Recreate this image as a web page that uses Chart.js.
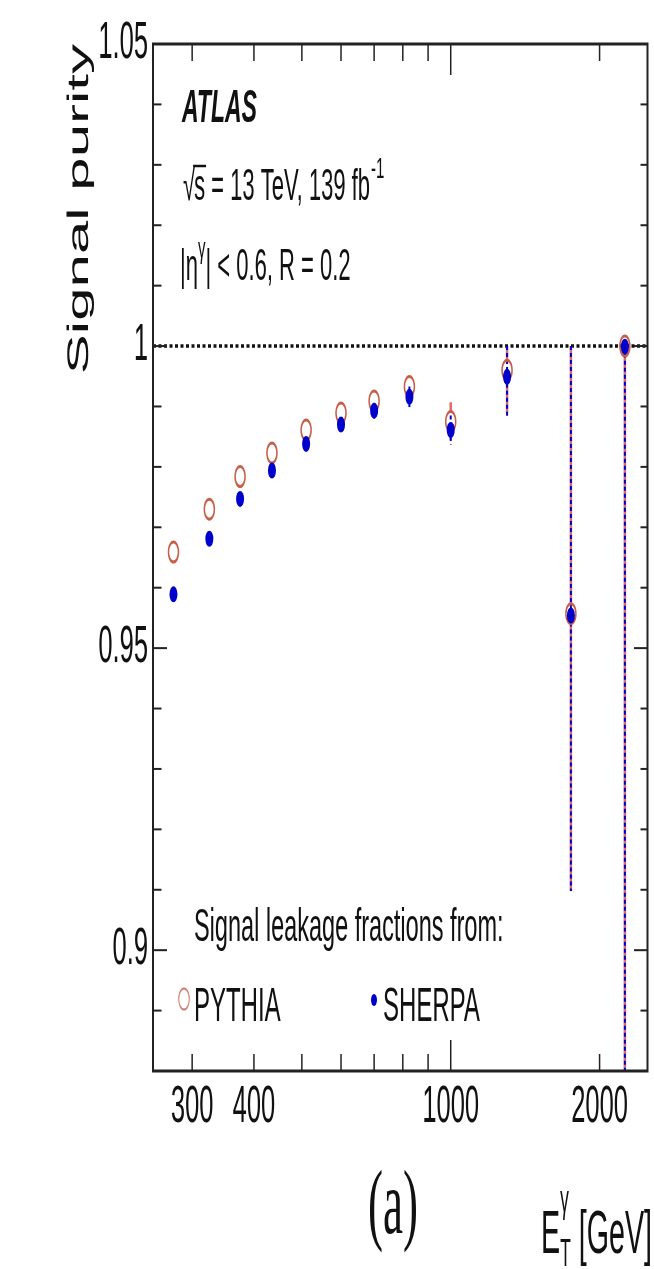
<!DOCTYPE html>
<html><head><meta charset="utf-8">
<script src="https://cdn.jsdelivr.net/npm/chart.js@4.4.1/dist/chart.umd.min.js"></script>
<style>html,body{margin:0;padding:0;background:#fff;overflow:hidden}
#c{display:block;width:654px !important;height:1269px !important}</style>
</head><body>
<canvas id="c" width="1308" height="1269" style="width:654px;height:1269px"></canvas>
<script>
// ---- data ----
const binCenters   = [275, 325, 375, 435, 510, 600, 700, 825, 1000, 1300, 1750, 2250];
const pythiaPurity = [0.9659, 0.9730, 0.9784, 0.9823, 0.9861, 0.9889, 0.9909, 0.9933, 0.9875, 0.9960, 0.9557, 1.0000];
const pythiaErrLow = [0.0005, 0.0005, 0.0006, 0.0007, 0.0008, 0.0010, 0.0012, 0.0015, 0.0030, 0.0070, 0.0459, 0.1500];
const pythiaErrHigh= [0.0005, 0.0005, 0.0006, 0.0007, 0.0008, 0.0010, 0.0012, 0.0015, 0.0032, 0.0040, 0.0443, 0.0000];
const sherpaPurity = [0.9589, 0.9681, 0.9747, 0.9794, 0.9838, 0.9870, 0.9893, 0.9916, 0.9861, 0.9949, 0.9554, 0.9999];
const sherpaErrLow = [0.0005, 0.0006, 0.0007, 0.0008, 0.0009, 0.0011, 0.0013, 0.0017, 0.0024, 0.0068, 0.0456, 0.1500];
const sherpaErrHigh= [0.0005, 0.0006, 0.0007, 0.0008, 0.0009, 0.0011, 0.0013, 0.0017, 0.0024, 0.0051, 0.0446, 0.0001];
const xTickLabels  = [300, 400, 1000, 2000];
const xMinorTicks  = [300, 400, 500, 600, 700, 800, 900, 2000];
const xMajorTicks  = [1000];
const yTickLabels  = [0.9, 0.95, 1, 1.05];
const yMajorTicks  = [0.9, 0.95, 1.0];
const yMinorTicks  = [0.89, 0.91, 0.92, 0.93, 0.94, 0.96, 0.97, 0.98, 0.99, 1.01, 1.02, 1.03, 1.04];
const referenceLevel = 1.0;

const SANS = '"Liberation Sans", Arial, Helvetica, sans-serif';
const SERIF = '"Liberation Serif", "Times New Roman", serif';
const PY_COLOR = '#c65e48';
const SH_COLOR = '#0000cc';
const PY_R = 10, SH_R = 8;

// ROOT-style error bars: the part hidden by the marker is not drawn
function errorBars(ctx, xs, ys, vals, lo, hi, color, width, dash, gap) {
  ctx.save();
  ctx.strokeStyle = color; ctx.lineWidth = width; ctx.setLineDash(dash);
  vals.forEach((v, i) => {
    const px = xs.getPixelForValue(binCenters[i]);
    const pc = ys.getPixelForValue(v);
    const pTop = ys.getPixelForValue(v + hi[i]);
    const pBot = ys.getPixelForValue(v - lo[i]);
    if (pTop < pc - gap) { ctx.beginPath(); ctx.moveTo(px, pTop); ctx.lineTo(px, pc - gap); ctx.stroke(); }
    if (pBot > pc + gap) { ctx.beginPath(); ctx.moveTo(px, pc + gap); ctx.lineTo(px, pBot); ctx.stroke(); }
  });
  ctx.restore();
}

const decor = {
  id: 'decor',
  beforeDatasetsDraw(chart) {
    const {ctx, chartArea: a, scales: {x, y}} = chart;
    ctx.save();
    ctx.beginPath(); ctx.rect(a.left, a.top, a.right - a.left, a.bottom - a.top); ctx.clip();
    ctx.strokeStyle = '#111'; ctx.lineWidth = 3.5; ctx.setLineDash([6, 5]);
    const py = y.getPixelForValue(referenceLevel);
    ctx.beginPath(); ctx.moveTo(a.left, py); ctx.lineTo(a.right, py); ctx.stroke();
    errorBars(ctx, x, y, pythiaPurity, pythiaErrLow, pythiaErrHigh, '#e06a6a', 5, [], PY_R);
    errorBars(ctx, x, y, sherpaPurity, sherpaErrLow, sherpaErrHigh, SH_COLOR, 4, [4, 3], SH_R - 1);
    ctx.restore();
  },
  afterDraw(chart) {
    const {ctx, chartArea: a, scales: {x, y}} = chart;
    ctx.save();
    ctx.strokeStyle = '#222';
    ctx.lineWidth = 3;
    ctx.beginPath(); ctx.moveTo(a.left - 2, a.top); ctx.lineTo(a.right + 2, a.top); ctx.stroke();
    ctx.beginPath(); ctx.moveTo(a.left - 2, a.bottom); ctx.lineTo(a.right + 2, a.bottom); ctx.stroke();
    ctx.lineWidth = 4;
    ctx.beginPath(); ctx.moveTo(a.left, a.top); ctx.lineTo(a.left, a.bottom); ctx.stroke();
    ctx.beginPath(); ctx.moveTo(a.right, a.top); ctx.lineTo(a.right, a.bottom); ctx.stroke();
    ctx.lineWidth = 3;
    const xt = (v, len) => {
      const px = x.getPixelForValue(v);
      ctx.beginPath(); ctx.moveTo(px, a.bottom); ctx.lineTo(px, a.bottom - len); ctx.stroke();
      ctx.beginPath(); ctx.moveTo(px, a.top); ctx.lineTo(px, a.top + len); ctx.stroke();
    };
    xMinorTicks.forEach(v => xt(v, 17));
    xMajorTicks.forEach(v => xt(v, 31));
    ctx.lineWidth = 2;
    const yt = (v, lenL, lenR) => {
      const py = y.getPixelForValue(v);
      ctx.beginPath(); ctx.moveTo(a.left, py); ctx.lineTo(a.left + lenL, py); ctx.stroke();
      ctx.beginPath(); ctx.moveTo(a.right, py); ctx.lineTo(a.right - lenR, py); ctx.stroke();
    };
    yMinorTicks.forEach(v => yt(v, 17, 14));
    yMajorTicks.forEach(v => yt(v, 28, 27));

    ctx.fillStyle = '#111';
    ctx.textBaseline = 'alphabetic';
    ctx.textAlign = 'left';
    ctx.font = 'italic bold 46px ' + SANS;
    ctx.fillText('ATLAS', 364, 122);

    ctx.font = '44px ' + SANS;
    let cx = 366;
    ctx.fillText('\u221A', cx, 200);
    const wr = ctx.measureText('\u221A').width;
    const sx0 = cx + wr - 2;
    ctx.fillText('s', sx0, 200);
    const ws = ctx.measureText('s').width;
    ctx.lineWidth = 2.5; ctx.strokeStyle = '#111';
    ctx.beginPath(); ctx.moveTo(sx0 - 2, 166); ctx.lineTo(sx0 + ws + 2, 166); ctx.stroke();
    cx = sx0 + ws;
    const rest = ' = 13 TeV, 139 fb';
    ctx.fillText(rest, cx, 200);
    cx += ctx.measureText(rest).width + 2;
    ctx.font = '30px ' + SANS;
    ctx.fillText('-1', cx, 178);

    ctx.font = '44px ' + SANS;
    cx = 360;
    ctx.fillText('|\u03B7', cx, 280);
    cx += ctx.measureText('|\u03B7').width;
    ctx.font = '30px ' + SANS;
    ctx.fillText('\u03B3', cx, 258);
    cx += ctx.measureText('\u03B3').width;
    ctx.font = '44px ' + SANS;
    ctx.fillText('| < 0.6, R = 0.2', cx, 280);

    ctx.font = '47px ' + SANS;
    ctx.fillText('Signal leakage fractions from:', 388, 941);
    ctx.font = '48px ' + SANS;
    ctx.fillText('PYTHIA', 388, 1021);
    ctx.fillText('SHERPA', 766, 1021);
    ctx.strokeStyle = '#d07a70'; ctx.lineWidth = 2;
    ctx.beginPath(); ctx.arc(368, 999, 10.5, 0, Math.PI * 2); ctx.stroke();
    ctx.fillStyle = SH_COLOR;
    ctx.beginPath(); ctx.arc(748, 1000, 6, 0, Math.PI * 2); ctx.fill();

    ctx.fillStyle = '#111';
    ctx.font = '90px ' + SERIF;
    ctx.textAlign = 'center';
    ctx.fillText('(a)', 786, 1233);

    ctx.textAlign = 'left';
    ctx.font = '62px ' + SANS;
    const wE = ctx.measureText('E').width;
    ctx.font = '38px ' + SANS;
    const wSub = Math.max(ctx.measureText('T').width, ctx.measureText('\u03B3').width);
    ctx.font = '62px ' + SANS;
    const wG = ctx.measureText(' [GeV]').width;
    const natural = wE + wSub + wG;
    const target = 222;
    ctx.save();
    ctx.translate(1304 - target, 0);
    ctx.scale(target / natural, 1);
    ctx.font = '62px ' + SANS;
    ctx.fillText('E', 0, 1253);
    ctx.font = '38px ' + SANS;
    ctx.fillText('T', wE, 1266);
    ctx.fillText('\u03B3', wE, 1212);
    ctx.font = '62px ' + SANS;
    ctx.fillText(' [GeV]', wE + wSub, 1253);
    ctx.restore();
    ctx.restore();
  }
};

new Chart(document.getElementById('c').getContext('2d'), {
  type: 'scatter',
  data: {
    datasets: [
      {
        label: 'SHERPA',
        data: binCenters.map((v, i) => ({x: v, y: sherpaPurity[i]})),
        pointStyle: 'circle', pointRadius: SH_R, pointHoverRadius: SH_R,
        backgroundColor: SH_COLOR, borderColor: SH_COLOR, borderWidth: 0,
        order: 0
      },
      {
        label: 'PYTHIA',
        data: binCenters.map((v, i) => ({x: v, y: pythiaPurity[i]})),
        pointStyle: 'circle', pointRadius: PY_R, pointHoverRadius: PY_R,
        backgroundColor: 'rgba(255,255,255,0)', borderColor: PY_COLOR, borderWidth: 3,
        order: 1
      }
    ]
  },
  options: {
    responsive: false, animation: false, devicePixelRatio: 1,
    events: [],
    layout: {padding: {left: 0, right: 8, top: 44, bottom: 118}},
    plugins: {legend: {display: false}, tooltip: {enabled: false}},
    scales: {
      x: {
        type: 'logarithmic', position: 'bottom', min: 250, max: 2500,
        grid: {display: false, drawTicks: false}, border: {display: false},
        afterBuildTicks: s => { s.ticks = xTickLabels.map(v => ({value: v})); },
        afterFit: s => { s.height = 80; },
        ticks: {autoSkip: false, maxRotation: 0, minRotation: 0, padding: 6,
          font: {family: SANS, size: 51}, color: '#111', callback: v => String(v)}
      },
      y: {
        type: 'linear', position: 'left', min: 0.88, max: 1.05,
        grid: {display: false, drawTicks: false}, border: {display: false},
        afterBuildTicks: s => { s.ticks = yTickLabels.map(v => ({value: v})); },
        afterFit: s => { s.width = 306; },
        ticks: {autoSkip: false, padding: 10,
          font: {family: SANS, size: 51}, color: '#111', callback: v => String(v)},
        title: {display: true, text: 'Signal purity', align: 'end',
          font: {family: SANS, size: 60}, color: '#111', padding: {top: 123, bottom: 0}}
      }
    }
  },
  plugins: [decor]
});
</script>
</body></html>
